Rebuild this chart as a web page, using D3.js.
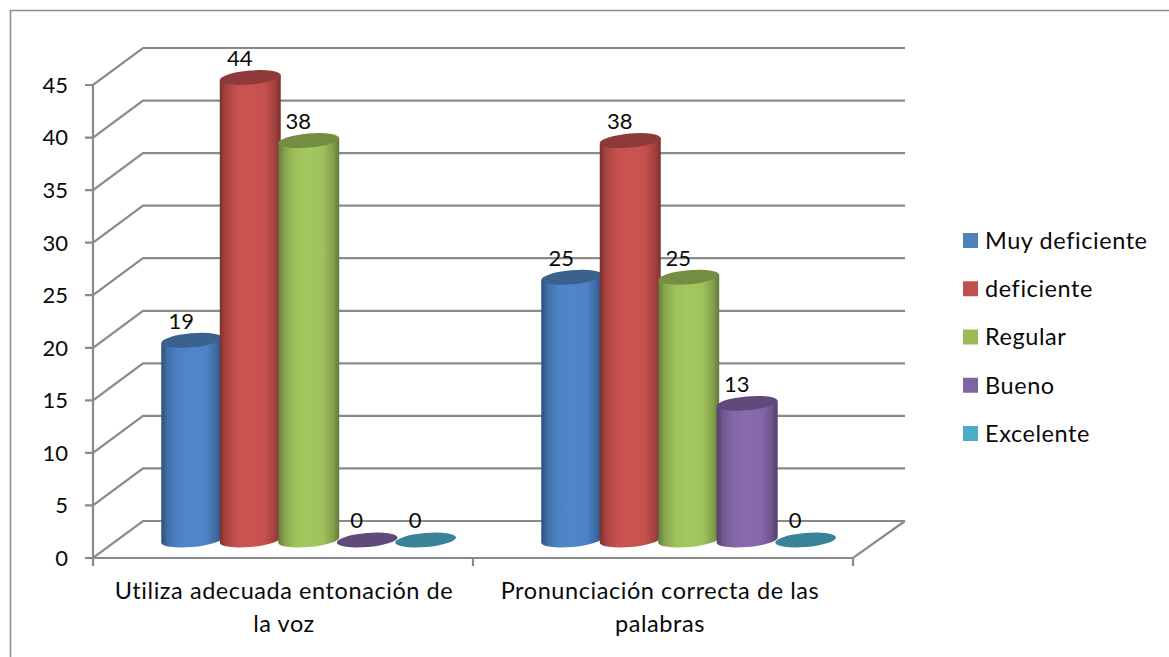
<!DOCTYPE html>
<html><head><meta charset="utf-8">
<script src="https://cdn.jsdelivr.net/npm/d3@7"></script>
<style>html,body{margin:0;padding:0;background:#fff}svg{display:block}text{font-family:Lato,"Open Sans",sans-serif;fill:#0a0a0a}</style>
</head><body><svg id="c" width="1169" height="657"></svg>
<script>
const categories = [["Utiliza adecuada entonación de","la voz"],["Pronunciación correcta de las","palabras"]];
const seriesNames = ["Muy deficiente","deficiente","Regular","Bueno","Excelente"];
const muyDeficiente = [19,25];
const deficiente = [44,38];
const regular = [38,25];
const bueno = [0,13];
const excelente = [0,0];
const seriesValues = [muyDeficiente,deficiente,regular,bueno,excelente];
const colors = ["#5087CB","#CC5451","#A3C75E","#8A6BAE","#4BACC6"];
const edgeColors = ["#2c4f7c","#7a302e","#62783a","#503f69","#2f7488"];
const topColors = ["#3b618f","#8f3a38","#748d42","#5f4a7b","#38829a"];
const legendColors = ["#4F81BD","#C0504D","#9BBB59","#8064A2","#4BACC6"];
const yTicks = [0,5,10,15,20,25,30,35,40,45];

const svg = d3.select("#c");
const FS = 23.5, NFS = 22, LS = "0.57px", GRID = "#8a8a8a";
const depth = {x:50,y:-37}, bar = {x:25.7,y:-18};
const y = d3.scaleLinear().domain([0,45]).range([558,85]);
const x0 = d3.scaleBand().domain(d3.range(categories.length)).range([93,853]);
const x1 = d3.scaleBand().domain(d3.range(seriesNames.length)).range([0,x0.bandwidth()]).paddingOuter(0.75).paddingInner(0);
const step = x1.step(), rx = 30.5, ry = 7, tilt = -5;

// frame
svg.append("path").attr("d","M10.5,657V10.5H1169").attr("fill","none").attr("stroke","#8c8c8c").attr("stroke-width",1.6);

// walls
const wall = svg.append("g").attr("fill","none");
const g = wall.append("g").attr("stroke",GRID).attr("stroke-width",2.2);
const [xL,xR] = x0.range();
yTicks.forEach(t=>{
  g.append("path").attr("d",d3.line()([[xL-8,y(t)],[xL,y(t)],[xL+depth.x,y(t)+depth.y],[xR+depth.x+2,y(t)+depth.y]]));
  svg.append("text").attr("x",xL-25).attr("y",y(t)).attr("dy","0.36em").attr("text-anchor","end").attr("font-size",NFS).text(t);
});
g.append("path").attr("d",d3.line()([[xL,y(45)],[xL,y(0)],[xR,y(0)],[xR+depth.x+2,y(0)+depth.y]]));
[0,1,2].forEach(i=>{
  const px = i<2 ? x0(i) : xR;
  g.append("path").attr("d",d3.line()([[px,y(0)],[px,y(0)+8]]));
});

// gradients
const defs = svg.append("defs");
colors.forEach((c,i)=>{
  const lg = defs.append("linearGradient").attr("id","g"+i);
  [[0,edgeColors[i]],[.1,d3.interpolateRgb(edgeColors[i],c)(.55)],[.28,d3.interpolateRgb(edgeColors[i],c)(.92)],[.5,c],[.74,d3.interpolateRgb(edgeColors[i],c)(.92)],[.9,d3.interpolateRgb(edgeColors[i],c)(.5)],[1,edgeColors[i]]]
    .forEach(([o,col])=>lg.append("stop").attr("offset",o).attr("stop-color",col));
});

// cylinders
const dy = rx*Math.sin(-tilt*Math.PI/180);
seriesNames.forEach((name,s)=>{
  categories.forEach((cat,c)=>{
    const v = seriesValues[s][c];
    const cx = x0(c)+x1(s)+step/2+bar.x;
    const yt = y(v)+bar.y, yb = y(0)+bar.y;
    const node = svg.append("g");
    if(v>0){
      node.append("path").attr("fill",`url(#g${s})`).attr("d",
        `M${cx-rx},${yt+dy}L${cx+rx},${yt-dy}L${cx+rx},${yb-dy}A${rx},${ry} ${tilt} 0 1 ${cx-rx},${yb+dy}Z`);
    }
    node.append("ellipse").attr("cx",cx).attr("cy",yt).attr("rx",rx).attr("ry",ry)
      .attr("transform",`rotate(${tilt} ${cx} ${yt})`).attr("fill",topColors[s]);
    svg.append("text").attr("x",cx-10.5).attr("y",yt-19.5).attr("dy","0.36em").attr("text-anchor","middle").attr("font-size",NFS).text(v);
  });
});

// category labels
const labelShift = [1,-3];
categories.forEach((lines,c)=>{
  const cx = x0(c)+x0.bandwidth()/2+labelShift[c];
  lines.forEach((l,i)=>svg.append("text").attr("x",cx).attr("y",591+i*32.5).attr("dy","0.36em").attr("text-anchor","middle").attr("font-size",FS).attr("letter-spacing",LS).text(l));
});

// legend
const ly = d3.scalePoint().domain(seriesNames).range([240.5,433.5]);
seriesNames.forEach((n,i)=>{
  svg.append("rect").attr("x",963).attr("y",ly(n)-7.5).attr("width",15).attr("height",15).attr("fill",legendColors[i]);
  svg.append("text").attr("x",985).attr("y",ly(n)).attr("dy","0.36em").attr("font-size",FS).attr("letter-spacing",LS).text(n);
});
</script></body></html>
